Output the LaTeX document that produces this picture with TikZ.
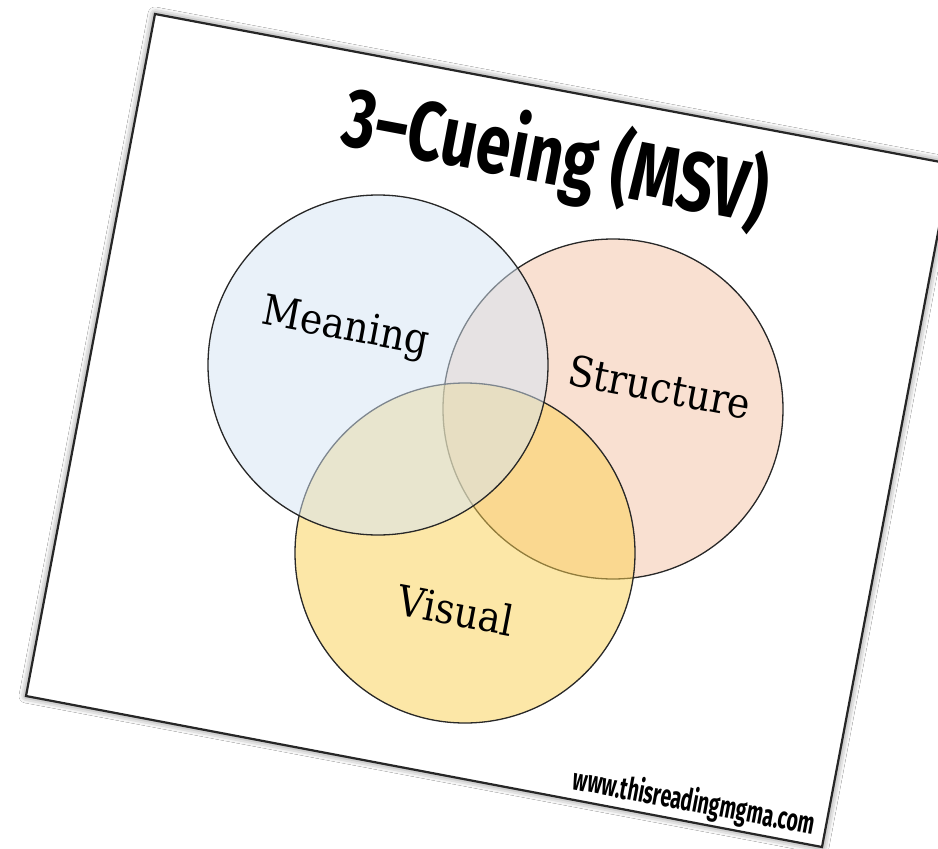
\documentclass[tikz,border=0pt]{standalone}
\usepackage{fontspec}
\usetikzlibrary{shadows.blur}
\newfontfamily\titlefont[FakeStretch=0.74]{Fira Sans}
\newfontfamily\urlfont[FakeStretch=0.63]{Fira Sans}
\newfontfamily\labelfont[FakeStretch=0.9]{DejaVu Serif}
\definecolor{mblue}{RGB}{213,229,245}
\definecolor{speach}{RGB}{245,195,165}
\definecolor{vyellow}{RGB}{251,209,81}
\definecolor{edgecol}{RGB}{40,40,40}
\begin{document}
\begin{tikzpicture}[x=1pt,y=-1pt,
  venn/.style={circle, minimum size=340pt, inner sep=0pt, draw=edgecol, line width=1.3pt, fill opacity=0.5},
  lbl/.style={rotate=-10.7, font=\labelfont\fontsize{42}{42}\selectfont, inner sep=0pt},
  cardtext/.style={rotate=-10.7, inner sep=0pt},
]
\useasboundingbox (0,0) rectangle (938,849);
\fill[white] (0,0) rectangle (938,849);
\path[fill=white, draw=black!85, line width=2.2pt,
  blur shadow={shadow xshift=0pt, shadow yshift=0pt, shadow blur radius=7pt, shadow opacity=60}]
  (155,14) -- (951,164) -- (822,847) -- (26,696) -- cycle;
\node[venn, fill=speach] (S) at (613,409) {};
\node[venn, fill=vyellow] (V) at (465,553) {};
\node[venn, fill=mblue] (M) at (378,365) {};
\node[lbl] (tM) at (345,329) {Meaning};
\node[lbl] (tS) at (660,387) {Structure};
\node[lbl] (tV) at (456,610) {Visual};
\node[cardtext, font=\titlefont\bfseries\fontsize{84}{84}\selectfont] (title) at (556,158) {3\textendash Cueing (MSV)};
\node[cardtext, font=\urlfont\bfseries\fontsize{31}{31}\selectfont] (url) at (694,803) {www.thisreadingmgma.com};
\end{tikzpicture}
\end{document}
